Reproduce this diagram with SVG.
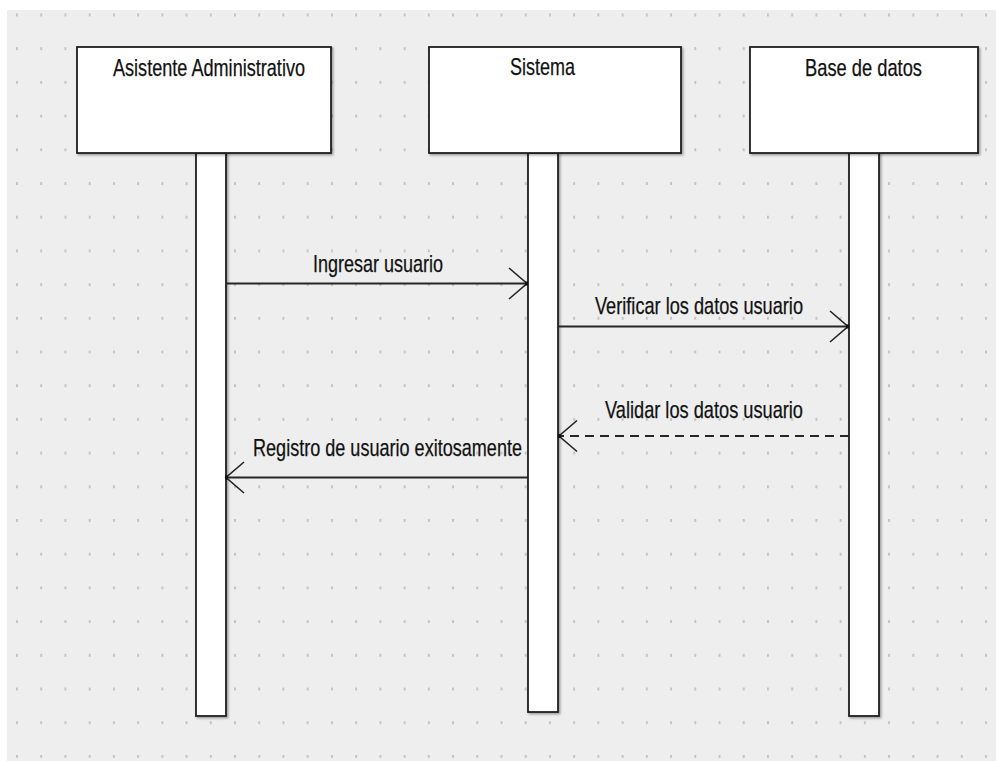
<svg xmlns="http://www.w3.org/2000/svg" width="996" height="761" viewBox="0 0 996 761">
  <defs>
    <!-- dotted drawing grid -->
    <pattern id="grid" x="16" y="13.5" width="24.225" height="33.7" patternUnits="userSpaceOnUse">
      <rect x="0" y="0" width="2" height="3" fill="#c4c4c4"/>
    </pattern>
    <!-- open arrowhead used by all messages -->
    <marker id="open-arrow" viewBox="-20 -17 22 34" refX="0" refY="0" markerWidth="22" markerHeight="34" markerUnits="userSpaceOnUse" orient="auto">
      <path d="M-18,-15.5 L0,0 L-18,15.5" fill="none" stroke="#222" stroke-width="1.6"/>
      <rect x="-2" y="-2" width="3" height="4" fill="#111"/>
    </marker>
    <filter id="shadow" x="-10%" y="-10%" width="130%" height="130%">
      <feDropShadow dx="1.5" dy="1.5" stdDeviation="1" flood-color="#000" flood-opacity="0.35"/>
    </filter>
  </defs>
  <style>
    .head { fill: #fff; stroke: #1e1e1e; stroke-width: 1.8; filter: url(#shadow); }
    .bar { fill: #fff; stroke: #1e1e1e; stroke-width: 1.8; filter: url(#shadow); }
    .label { font-family: "Liberation Sans", Arial, sans-serif; font-size: 24px; fill: #111; stroke: #111; stroke-width: 0.25; }
    .msg { fill: none; stroke: #262626; stroke-width: 1.9; marker-end: url(#open-arrow); }
    .reply { stroke-dasharray: 9 6; }
  </style>

  <!-- canvas -->
  <rect x="0" y="0" width="996" height="761" fill="#fff"/>
  <rect x="7" y="10" width="989" height="751" fill="#eeeeee"/>
  <rect x="7" y="10" width="989" height="751" fill="url(#grid)"/>

  <!-- lifelines -->
  <g id="asistente">
    <rect class="bar" x="196" y="153" width="30" height="563"/>
    <rect class="head" x="77" y="47" width="254" height="106"/>
    <text class="label" x="113" y="76" textLength="192" lengthAdjust="spacingAndGlyphs">Asistente Administrativo</text>
  </g>
  <g id="sistema">
    <rect class="bar" x="528" y="153" width="30" height="559"/>
    <rect class="head" x="429" y="47" width="252" height="106"/>
    <text class="label" x="510" y="75" textLength="65" lengthAdjust="spacingAndGlyphs">Sistema</text>
  </g>
  <g id="base-de-datos">
    <rect class="bar" x="849" y="153" width="30" height="563"/>
    <rect class="head" x="750" y="47" width="228" height="106"/>
    <text class="label" x="805" y="75.5" textLength="117" lengthAdjust="spacingAndGlyphs">Base de datos</text>
  </g>

  <!-- messages -->
  <g id="connectors">
    <line class="msg" x1="226" y1="283.5" x2="527" y2="283.5"/>
    <text class="label" x="313" y="272" textLength="130" lengthAdjust="spacingAndGlyphs">Ingresar usuario</text>

    <line class="msg" x1="558" y1="326.5" x2="848" y2="326.5"/>
    <text class="label" x="595" y="313.5" textLength="208" lengthAdjust="spacingAndGlyphs">Verificar los datos usuario</text>

    <line class="msg reply" x1="849" y1="436" x2="559" y2="436"/>
    <text class="label" x="605" y="417.5" textLength="198" lengthAdjust="spacingAndGlyphs">Validar los datos usuario</text>

    <line class="msg" x1="528" y1="477.5" x2="226" y2="477.5"/>
    <text class="label" x="253" y="456" textLength="269" lengthAdjust="spacingAndGlyphs">Registro de usuario exitosamente</text>
  </g>
</svg>
